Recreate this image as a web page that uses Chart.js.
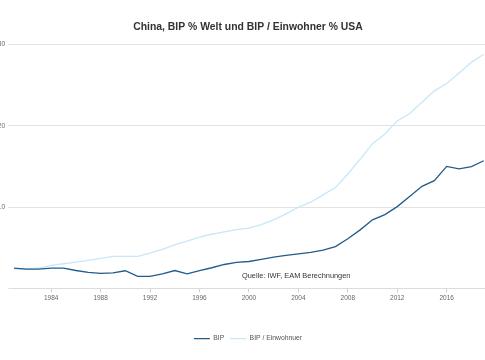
<!DOCTYPE html>
<html>
<head>
<meta charset="utf-8">
<script src="https://cdn.jsdelivr.net/npm/chart.js@4"></script>
<style>
html,body{margin:0;padding:0;background:#fff;overflow:hidden;width:485px;height:360px;}
#wrap{position:absolute;left:0;top:0;width:485px;height:360px;}
</style>
</head>
<body>
<div id="wrap"><canvas id="c" width="485" height="360"></canvas></div>
<script>
const years = [1981,1982,1983,1984,1985,1986,1987,1988,1989,1990,1991,1992,1993,1994,1995,1996,1997,1998,1999,2000,2001,2002,2003,2004,2005,2006,2007,2008,2009,2010,2011,2012,2013,2014,2015,2016,2017,2018,2019];
const bip = [2.5,2.37,2.37,2.5,2.5,2.2,1.96,1.84,1.92,2.17,1.47,1.47,1.8,2.2,1.8,2.2,2.54,2.94,3.19,3.31,3.56,3.84,4.05,4.25,4.42,4.7,5.15,6.1,7.2,8.43,9.08,10.06,11.3,12.55,13.25,15.0,14.7,14.97,15.7];
const bipEinw = [2.37,2.37,2.5,2.82,3.03,3.23,3.44,3.68,3.93,3.93,3.93,4.33,4.8,5.36,5.8,6.3,6.66,6.95,7.24,7.4,7.85,8.43,9.16,9.98,10.6,11.5,12.4,14.07,15.9,17.8,19.0,20.6,21.5,22.9,24.3,25.2,26.5,27.8,28.8];
const xTicks = [1984,1988,1992,1996,2000,2004,2008,2012,2016];
const yTicks = [0,10,20,30];
const seriesNames = ['BIP','BIP / Einwohnuer'];
const titleText = 'China, BIP % Welt und BIP / Einwohner % USA';
const sourceText = 'Quelle: IWF, EAM Berechnungen';

const FONT = "'Liberation Sans', Arial, sans-serif";

const sourcePlugin = {
  id: 'sourceText',
  afterDatasetsDraw(chart) {
    const ctx = chart.ctx;
    const a = chart.chartArea;
    ctx.save();
    ctx.font = "7.4px " + FONT;
    ctx.fillStyle = '#333';
    ctx.textAlign = 'left';
    ctx.textBaseline = 'middle';
    ctx.fillText(sourceText, a.left + 231, a.bottom - 12);
    ctx.restore();
  }
};

new Chart(document.getElementById('c'), {
  type: 'line',
  data: {
    datasets: [
      { label: seriesNames[0], data: years.map((y,i)=>({x:y,y:bip[i]})), borderColor: '#215c8d', backgroundColor: '#215c8d', borderWidth: 1.3, pointRadius: 0, tension: 0 },
      { label: seriesNames[1], data: years.map((y,i)=>({x:y,y:bipEinw[i]})), borderColor: '#c8e7f8', backgroundColor: '#c8e7f8', borderWidth: 1.3, pointRadius: 0, tension: 0 }
    ]
  },
  options: {
    responsive: false,
    animation: false,
    devicePixelRatio: 1,
    layout: { padding: { top: 0, right: 0, bottom: 8, left: 0 } },
    plugins: {
      title: { display: true, fullSize: false, text: titleText, color: '#333', font: { family: FONT, size: 10.4, weight: 'bold' }, padding: { top: 21, bottom: 11 } },
      legend: {
        position: 'bottom',
        fullSize: false,
        labels: { usePointStyle: true, pointStyle: 'line', pointStyleWidth: 16, boxHeight: 7, color: '#555', font: { family: FONT, size: 6.8 }, padding: 6 }
      },
      tooltip: { enabled: false }
    },
    scales: {
      x: {
        type: 'linear',
        min: 1980.75,
        max: 2019.1,
        afterBuildTicks: (s) => { s.ticks = xTicks.map(v => ({ value: v })); },
        afterFit: (s) => { s.height += 25; },
        ticks: { color: '#666', font: { family: FONT, size: 6.5 }, padding: 2, maxRotation: 0, callback: (v) => String(v) },
        grid: { display: true, drawOnChartArea: false, drawTicks: true, tickLength: 4, color: '#cfcfcf' },
        border: { display: true, color: '#dcdcdc' }
      },
      y: {
        min: 0,
        max: 30,
        afterBuildTicks: (s) => { s.ticks = yTicks.map(v => ({ value: v })); },
        afterFit: (s) => { s.width = 11; },
        ticks: { color: '#667', font: { family: FONT, size: 6.5 }, padding: 3, callback: (v) => v === 0 ? '' : String(v) },
        grid: { color: '#e3e3e3', drawTicks: true, tickLength: 3 },
        border: { display: false }
      }
    }
  },
  plugins: [sourcePlugin]
});
</script>
</body>
</html>
